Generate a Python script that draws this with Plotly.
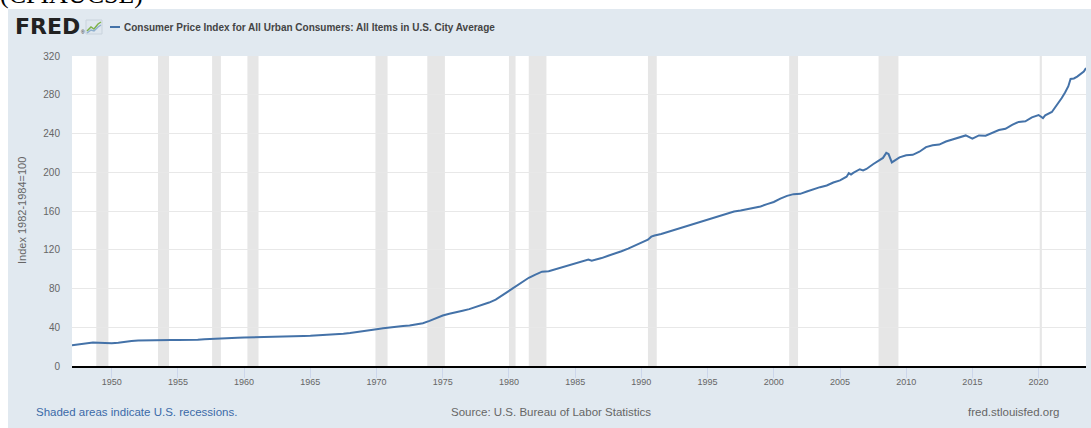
import plotly.graph_objects as go

# ---------------- data ----------------
dates = [
    "1947-01-01", "1947-07-01", "1948-01-01", "1948-08-01", "1949-01-01", "1949-07-01",
    "1950-01-01", "1950-07-01", "1951-01-01", "1951-07-01", "1952-01-01", "1952-07-01",
    "1953-01-01", "1953-07-01", "1954-01-01", "1954-07-01", "1955-01-01", "1955-07-01",
    "1956-01-01", "1956-07-01", "1957-01-01", "1957-07-01", "1958-01-01", "1958-07-01",
    "1959-01-01", "1959-07-01", "1960-01-01", "1960-07-01", "1961-01-01", "1961-07-01",
    "1962-01-01", "1962-07-01", "1963-01-01", "1963-07-01", "1964-01-01", "1964-07-01",
    "1965-01-01", "1965-07-01", "1966-01-01", "1966-07-01", "1967-01-01", "1967-07-01",
    "1968-01-01", "1968-07-01", "1969-01-01", "1969-07-01", "1970-01-01", "1970-07-01",
    "1971-01-01", "1971-07-01", "1972-01-01", "1972-07-01", "1973-01-01", "1973-07-01",
    "1974-01-01", "1974-07-01", "1975-01-01", "1975-07-01", "1976-01-01", "1976-07-01",
    "1977-01-01", "1977-07-01", "1978-01-01", "1978-07-01", "1979-01-01", "1979-07-01",
    "1980-01-01", "1980-07-01", "1981-01-01", "1981-07-01", "1982-01-01", "1982-07-01",
    "1983-01-01", "1983-07-01", "1984-01-01", "1984-07-01", "1985-01-01", "1985-07-01",
    "1986-01-01", "1986-04-01", "1986-07-01", "1987-01-01", "1987-07-01", "1988-01-01",
    "1988-07-01", "1989-01-01", "1989-07-01", "1990-01-01", "1990-07-01", "1990-10-01",
    "1991-01-01", "1991-07-01", "1992-01-01", "1992-07-01", "1993-01-01", "1993-07-01",
    "1994-01-01", "1994-07-01", "1995-01-01", "1995-07-01", "1996-01-01", "1996-07-01",
    "1997-01-01", "1997-07-01", "1998-01-01", "1998-07-01", "1999-01-01", "1999-07-01",
    "2000-01-01", "2000-07-01", "2001-01-01", "2001-07-01", "2001-11-01", "2002-01-01",
    "2002-07-01", "2003-01-01", "2003-04-01", "2003-07-01", "2004-01-01", "2004-07-01",
    "2005-01-01", "2005-07-01", "2005-09-01", "2005-11-01", "2006-01-01", "2006-07-01",
    "2006-10-01", "2007-01-01", "2007-07-01", "2008-01-01", "2008-04-01", "2008-07-01",
    "2008-09-01", "2008-12-01", "2009-03-01", "2009-07-01", "2010-01-01", "2010-07-01",
    "2011-01-01", "2011-07-01", "2012-01-01", "2012-07-01", "2013-01-01", "2013-07-01",
    "2014-01-01", "2014-07-01", "2015-01-01", "2015-07-01", "2016-01-01", "2016-07-01",
    "2017-01-01", "2017-07-01", "2018-01-01", "2018-07-01", "2019-01-01", "2019-07-01",
    "2020-01-01", "2020-05-01", "2020-07-01", "2021-01-01", "2021-04-01", "2021-07-01",
    "2021-10-01", "2022-01-01", "2022-04-01", "2022-06-01", "2022-09-01", "2022-12-01",
    "2023-03-01", "2023-06-01", "2023-08-01",
]
cpi = [
    21.48, 22.23, 23.68, 24.30, 24.01, 23.75,
    23.51, 24.07, 25.38, 25.92, 26.45, 26.67,
    26.60, 26.85, 26.90, 26.85, 26.77, 26.79,
    26.85, 27.18, 27.67, 28.10, 28.47, 28.78,
    28.80, 29.10, 29.30, 29.57, 29.80, 29.87,
    30.04, 30.22, 30.44, 30.69, 30.94, 31.05,
    31.28, 31.60, 31.88, 32.45, 32.90, 33.40,
    34.10, 34.90, 35.60, 36.80, 37.90, 38.90,
    39.90, 40.60, 41.20, 41.80, 42.70, 44.20,
    46.60, 49.40, 52.10, 53.90, 55.80, 57.00,
    58.70, 60.90, 62.70, 65.50, 68.50, 73.10,
    78.00, 82.70, 87.20, 91.10, 94.40, 97.40,
    97.80, 99.90, 101.90, 104.00, 105.70, 107.70,
    109.90, 108.70, 109.50, 111.40, 113.80, 116.00,
    118.50, 121.20, 124.50, 127.50, 130.40, 133.50,
    134.70, 136.20, 138.30, 140.50, 142.80, 144.50,
    146.30, 148.40, 150.50, 152.50, 154.70, 157.00,
    159.40, 160.50, 162.00, 163.20, 164.70, 167.10,
    169.30, 172.80, 175.60, 177.40, 177.40, 177.70,
    180.10, 182.60, 183.20, 184.60, 186.30, 189.40,
    191.60, 195.40, 199.10, 197.60, 199.30, 203.10,
    201.90, 203.40, 208.30, 212.20, 214.80, 220.00,
    218.80, 210.20, 212.70, 215.40, 217.50, 218.00,
    221.20, 225.90, 227.80, 228.60, 231.70, 233.60,
    235.30, 238.00, 234.70, 238.00, 237.70, 240.60,
    243.60, 244.80, 248.90, 252.00, 252.60, 256.60,
    259.10, 255.90, 258.70, 262.20, 266.80, 272.00,
    276.60, 282.40, 288.80, 296.30, 296.80, 298.70,
    301.70, 304.00, 307.50,
]

recession_starts = ["1948-11-01", "1953-07-01", "1957-08-01", "1960-04-01", "1969-12-01",
                    "1973-11-01", "1980-01-01", "1981-07-01", "1990-07-01", "2001-03-01",
                    "2007-12-01", "2020-02-01"]
recession_ends = ["1949-10-01", "1954-05-01", "1958-04-01", "1961-02-01", "1970-11-01",
                  "1975-03-01", "1980-07-01", "1982-11-01", "1991-03-01", "2001-11-01",
                  "2009-06-01", "2020-04-01"]

series_name = "Consumer Price Index for All Urban Consumers: All Items in U.S. City Average"
y_title = "Index 1982-1984=100"
series_id = "(CPIAUCSL)"

# ---------------- layout helpers ----------------
W, H = 1091, 428
L, R, T, B = 72, 5, 56, 62
PW, PH = W - L - R, H - T - B


def fx(px):
    return (px - L) / PW


def fy(py):
    return 1 - (py - T) / PH


SANS = "Liberation Sans, Arial, sans-serif"

fig = go.Figure()
fig.add_trace(go.Scatter(
    x=dates, y=cpi, mode="lines",
    line=dict(color="#4472a8", width=2),
    hoverinfo="skip", showlegend=False,
))

shapes = []
# white page margin (top strip and left strip)
shapes.append(dict(type="rect", xref="paper", yref="paper",
                   x0=fx(-5), x1=fx(W + 5), y0=fy(9), y1=fy(-5),
                   fillcolor="white", line=dict(width=0), layer="above"))
shapes.append(dict(type="rect", xref="paper", yref="paper",
                   x0=fx(-5), x1=fx(8), y0=fy(H + 5), y1=fy(-5),
                   fillcolor="white", line=dict(width=0), layer="above"))
# recession shading
for s, e in zip(recession_starts, recession_ends):
    shapes.append(dict(type="rect", xref="x", yref="paper", x0=s, x1=e, y0=0, y1=1,
                       fillcolor="#e6e6e6", line=dict(width=0), layer="below"))
# legend line sample
shapes.append(dict(type="line", xref="paper", yref="paper",
                   x0=fx(110), x1=fx(120), y0=fy(27), y1=fy(27),
                   line=dict(color="#4472a8", width=2), layer="above"))
# FRED icon
shapes.append(dict(type="rect", xref="paper", yref="paper",
                   x0=fx(86), x1=fx(102), y0=fy(34), y1=fy(20),
                   fillcolor="#dfe7ee", line=dict(color="#c9d3dc", width=1), layer="above"))
shapes.append(dict(type="path", xref="paper", yref="paper",
                   path=f"M {fx(87)} {fy(31)} L {fx(91)} {fy(27)} L {fx(94)} {fy(29)} L {fx(98)} {fy(24)} L {fx(101)} {fy(22)}",
                   line=dict(color="#7fb24a", width=1.5), layer="above"))
shapes.append(dict(type="path", xref="paper", yref="paper",
                   path=f"M {fx(87)} {fy(33)} L {fx(91)} {fy(30)} L {fx(94)} {fy(31)} L {fx(98)} {fy(27)} L {fx(101)} {fy(25)}",
                   line=dict(color="#8fb0cf", width=1.5), layer="above"))

annotations = [
    dict(text=series_id, xref="paper", yref="paper", x=fx(-2), y=fy(11),
         xanchor="left", yanchor="bottom", showarrow=False,
         font=dict(family="Liberation Serif, Times New Roman, serif", size=26, color="#000")),
    dict(text="<b>FRED</b>", xref="paper", yref="paper", x=fx(13), y=fy(26),
         xanchor="left", yanchor="middle", showarrow=False,
         font=dict(family="DejaVu Sans, sans-serif", size=22, color="#222222")),
    dict(text="®", xref="paper", yref="paper", x=fx(79), y=fy(32),
         xanchor="left", yanchor="middle", showarrow=False,
         font=dict(family=SANS, size=5, color="#222222")),
    dict(text=f"<b>{series_name}</b>", xref="paper", yref="paper", x=fx(122), y=fy(27),
         xanchor="left", yanchor="middle", showarrow=False,
         font=dict(family=SANS, size=10, color="#444444")),
    dict(text=y_title, xref="paper", yref="paper", x=fx(22), y=fy(211),
         xanchor="center", yanchor="middle", textangle=-90, showarrow=False,
         font=dict(family=SANS, size=11, color="#666666")),
    dict(text="Shaded areas indicate U.S. recessions.", xref="paper", yref="paper",
         x=fx(34), y=fy(412), xanchor="left", yanchor="middle", showarrow=False,
         font=dict(family=SANS, size=11.5, color="#3b6aa8")),
    dict(text="Source: U.S. Bureau of Labor Statistics", xref="paper", yref="paper",
         x=fx(551), y=fy(412), xanchor="center", yanchor="middle", showarrow=False,
         font=dict(family=SANS, size=11.5, color="#666666")),
    dict(text="fred.stlouisfed.org", xref="paper", yref="paper",
         x=fx(1061), y=fy(412), xanchor="right", yanchor="middle", showarrow=False,
         font=dict(family=SANS, size=11.5, color="#666666")),
]

fig.update_layout(
    width=W, height=H,
    margin=dict(l=L, r=R, t=T, b=B, pad=0),
    paper_bgcolor="#e1e9f0",
    plot_bgcolor="white",
    shapes=shapes,
    annotations=annotations,
    showlegend=False,
    xaxis=dict(
        type="date", range=["1947-01-01", "2023-08-01"],
        tick0="1950-01-01", dtick="M60", tickformat="%Y",
        ticks="outside", ticklen=10, tickwidth=1, tickcolor="#ccd6eb",
        ticklabelstandoff=-4,
        showline=True, linecolor="#000000", linewidth=2,
        showgrid=False, zeroline=False,
        tickfont=dict(family=SANS, size=9, color="#666666"),
        fixedrange=True,
    ),
    yaxis=dict(
        range=[0, 320], dtick=40, tick0=0,
        showgrid=True, gridcolor="#e8e8e8", gridwidth=1,
        zeroline=False, showline=False, ticks="",
        ticklabelstandoff=11,
        tickfont=dict(family=SANS, size=10, color="#666666"),
        fixedrange=True,
    ),
)

fig.write_html(
    "out.html",
    config={"displayModeBar": False},
    post_script="document.body.style.margin='0';document.body.style.overflow='hidden';",
)
